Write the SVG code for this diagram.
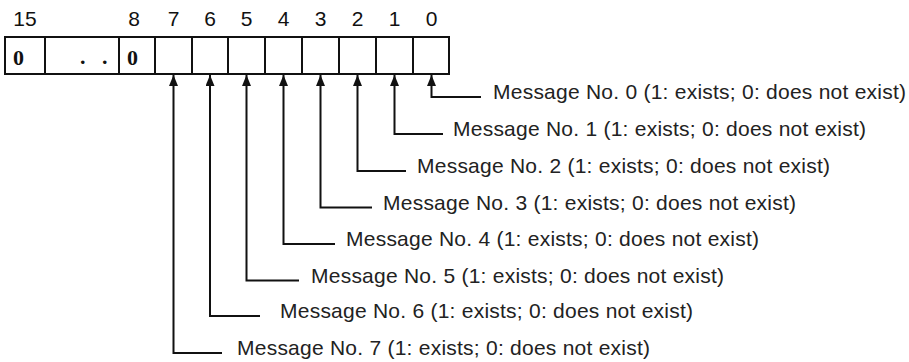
<svg xmlns="http://www.w3.org/2000/svg" width="909" height="362" viewBox="0 0 909 362">
<style>
.bit{font-family:"Liberation Sans",Arial,sans-serif;fill:#111;text-anchor:middle}
.val{font-family:"Liberation Serif","Times New Roman",serif;font-weight:bold;fill:#111}
.msg{font-family:"Liberation Sans",Arial,sans-serif;fill:#222}
.box{fill:#fff;stroke:#111;stroke-width:2}
.wire{fill:none;stroke:#111;stroke-width:2}
</style>
<defs>
<marker id="ah" markerWidth="5.5" markerHeight="4.5" refX="11" refY="4.5" orient="auto-start-reverse" viewBox="0 0 11 9">
<path d="M0,0 L11,4.5 L0,9 Z" fill="#111"/>
</marker>
</defs>
<g id="bit-labels" font-size="21">
<text class="bit" x="25" y="26">15</text>
<text class="bit" x="134" y="26">8</text>
<text class="bit" x="173.5" y="26">7</text>
<text class="bit" x="210" y="26">6</text>
<text class="bit" x="246.5" y="26">5</text>
<text class="bit" x="283.5" y="26">4</text>
<text class="bit" x="320.5" y="26">3</text>
<text class="bit" x="357.5" y="26">2</text>
<text class="bit" x="394.5" y="26">1</text>
<text class="bit" x="431.5" y="26">0</text>
</g>
<g id="register" font-size="22">
<rect class="box" x="5" y="37" width="444" height="37"/>
<path class="wire" d="M45,37V74M119,37V74M155,37V74M192,37V74M228,37V74M265,37V74M302,37V74M339,37V74M376,37V74M413,37V74"/>
<text class="val" x="13" y="65">0</text>
<text class="val" x="80 102" y="64">..</text>
<text class="val" x="127" y="65">0</text>
</g>
<g id="connectors">
<path class="wire" marker-start="url(#ah)" d="M431.5,75V97H481"/>
<path class="wire" marker-start="url(#ah)" d="M394.5,75V134H443"/>
<path class="wire" marker-start="url(#ah)" d="M357.5,75V171H406"/>
<path class="wire" marker-start="url(#ah)" d="M320.5,75V207.5H372"/>
<path class="wire" marker-start="url(#ah)" d="M283.5,75V244H335"/>
<path class="wire" marker-start="url(#ah)" d="M246.5,75V280.5H299"/>
<path class="wire" marker-start="url(#ah)" d="M210,75V316H260"/>
<path class="wire" marker-start="url(#ah)" d="M173.5,75V353H222"/>
</g>
<g id="messages" font-size="21">
<text class="msg" x="493" y="99" textLength="413" lengthAdjust="spacing">Message No. 0 (1: exists; 0: does not exist)</text>
<text class="msg" x="453" y="136" textLength="413" lengthAdjust="spacing">Message No. 1 (1: exists; 0: does not exist)</text>
<text class="msg" x="417" y="173" textLength="413" lengthAdjust="spacing">Message No. 2 (1: exists; 0: does not exist)</text>
<text class="msg" x="383" y="209.5" textLength="413" lengthAdjust="spacing">Message No. 3 (1: exists; 0: does not exist)</text>
<text class="msg" x="346" y="246" textLength="413" lengthAdjust="spacing">Message No. 4 (1: exists; 0: does not exist)</text>
<text class="msg" x="311" y="282.5" textLength="413" lengthAdjust="spacing">Message No. 5 (1: exists; 0: does not exist)</text>
<text class="msg" x="280" y="318" textLength="413" lengthAdjust="spacing">Message No. 6 (1: exists; 0: does not exist)</text>
<text class="msg" x="237" y="355" textLength="413" lengthAdjust="spacing">Message No. 7 (1: exists; 0: does not exist)</text>
</g>
</svg>
